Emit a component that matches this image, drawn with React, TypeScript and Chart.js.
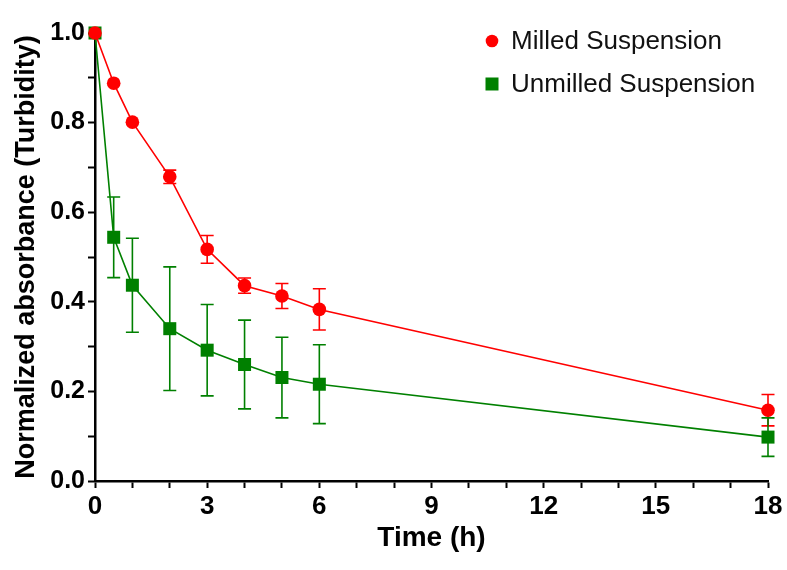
import React, { useEffect, useRef } from "react";
import { Chart, registerables } from "chart.js";

Chart.register(...registerables);

const times = [0, 0.5, 1, 2, 3, 4, 5, 6, 18];
const milledValues = [1.0, 0.888, 0.801, 0.679, 0.517, 0.436, 0.413, 0.383, 0.158];
const milledErrors = [0, 0, 0, 0.015, 0.031, 0.017, 0.028, 0.046, 0.035];
const unmilledValues = [1.0, 0.544, 0.437, 0.34, 0.292, 0.26, 0.231, 0.216, 0.098];
const unmilledErrors = [0, 0.09, 0.105, 0.138, 0.102, 0.099, 0.09, 0.088, 0.043];
const seriesLabels = ["Milled Suspension", "Unmilled Suspension"];
const xAxisTitle = "Time (h)";
const yAxisTitle = "Normalized absorbance (Turbidity)";

const FONT = "'Liberation Sans', Arial, Helvetica, sans-serif";
const RED = "#ff0000";
const GREEN = "#008000";

const errorBarPlugin = {
  id: "errorBars",
  beforeDatasetsDraw(chart: any) {
    const { ctx } = chart;
    const x = chart.scales.x;
    const y = chart.scales.y;
    chart.data.datasets.forEach((ds: any) => {
      const errs: number[] = ds.errors;
      if (!errs) return;
      ctx.save();
      ctx.strokeStyle = ds.borderColor;
      ctx.lineWidth = 1.6;
      ds.data.forEach((p: any, j: number) => {
        const e = errs[j];
        if (!e) return;
        const px = x.getPixelForValue(p.x);
        const top = y.getPixelForValue(p.y + e);
        const bot = y.getPixelForValue(p.y - e);
        ctx.beginPath();
        ctx.moveTo(px, top);
        ctx.lineTo(px, bot);
        ctx.moveTo(px - 6.5, top);
        ctx.lineTo(px + 6.5, top);
        ctx.moveTo(px - 6.5, bot);
        ctx.lineTo(px + 6.5, bot);
        ctx.stroke();
      });
      ctx.restore();
    });
  },
};

const legendPlugin = {
  id: "customLegend",
  afterDraw(chart: any) {
    const { ctx, chartArea } = chart;
    const mx = chartArea.left + 397;
    const tx = chartArea.left + 416;
    const rows = [chartArea.top + 8, chartArea.top + 51];
    ctx.save();
    chart.data.datasets.forEach((ds: any, i: number) => {
      const cy = rows[i];
      ctx.fillStyle = ds.backgroundColor;
      if (ds.pointStyle === "rect") {
        ctx.fillRect(mx - 6.5, cy - 6.5, 13, 13);
      } else {
        ctx.beginPath();
        ctx.arc(mx, cy, 6.3, 0, Math.PI * 2);
        ctx.fill();
      }
      ctx.fillStyle = "#111";
      ctx.font = `26px ${FONT}`;
      ctx.textBaseline = "middle";
      ctx.textAlign = "left";
      ctx.fillText(ds.label, tx, cy + 1);
    });
    ctx.restore();
  },
};

export default function App() {
  const canvasRef = useRef<HTMLCanvasElement | null>(null);

  useEffect(() => {
    if (!canvasRef.current) return;
    const chart = new Chart(canvasRef.current, {
      type: "line",
      data: {
        datasets: [
          {
            label: seriesLabels[0],
            data: times.map((t, i) => ({ x: t, y: milledValues[i] })),
            errors: milledErrors,
            borderColor: RED,
            backgroundColor: RED,
            pointBackgroundColor: RED,
            pointBorderColor: RED,
            borderWidth: 1.6,
            pointStyle: "circle",
            pointRadius: 6.8,
            pointBorderWidth: 0,
            clip: false,
          } as any,
          {
            label: seriesLabels[1],
            data: times.map((t, i) => ({ x: t, y: unmilledValues[i] })),
            errors: unmilledErrors,
            borderColor: GREEN,
            backgroundColor: GREEN,
            pointBackgroundColor: GREEN,
            pointBorderColor: GREEN,
            borderWidth: 1.6,
            pointStyle: "rect",
            pointRadius: 9.2,
            pointBorderWidth: 0,
            clip: false,
          } as any,
        ],
      },
      options: {
        animation: false,
        responsive: false,
        maintainAspectRatio: false,
        layout: { padding: { top: 33, right: 19, left: 0, bottom: 0 } },
        plugins: {
          legend: { display: false },
          tooltip: { enabled: false },
        },
        scales: {
          x: {
            type: "linear",
            min: 0,
            max: 18,
            afterFit: (s: any) => {
              s.height = 89;
            },
            ticks: {
              stepSize: 1,
              autoSkip: false,
              maxRotation: 0,
              padding: 3,
              color: "#000",
              font: { family: FONT, size: 26, weight: "bold" },
              callback: (v: any) => (Number(v) % 3 === 0 ? String(v) : ""),
            },
            grid: {
              display: true,
              drawOnChartArea: false,
              drawTicks: true,
              tickLength: 7,
              tickColor: "#000",
              tickWidth: 2,
            },
            border: { display: true, color: "#000", width: 2.5 },
            title: {
              display: true,
              text: xAxisTitle,
              color: "#000",
              font: { family: FONT, size: 28, weight: "bold" },
              padding: { top: 0, bottom: 15 },
            },
          },
          y: {
            type: "linear",
            min: 0,
            max: 1,
            afterFit: (s: any) => {
              s.width = 95;
            },
            ticks: {
              stepSize: 0.1,
              autoSkip: false,
              padding: 3,
              color: "#000",
              font: { family: FONT, size: 25, weight: "bold" },
              callback: (v: any) =>
                Math.round(Number(v) * 10) % 2 === 0 ? Number(v).toFixed(1) : "",
            },
            grid: {
              display: true,
              drawOnChartArea: false,
              drawTicks: true,
              tickLength: 7,
              tickColor: "#000",
              tickWidth: 2,
            },
            border: { display: true, color: "#000", width: 2.5 },
            title: {
              display: true,
              text: yAxisTitle,
              color: "#000",
              font: { family: FONT, size: 27, weight: "bold" },
              padding: { top: 10, bottom: 0 },
            },
          },
        },
      } as any,
      plugins: [errorBarPlugin, legendPlugin],
    });
    return () => chart.destroy();
  }, []);

  return (
    <div style={{ position: "fixed", left: 0, top: 0, width: 787, height: 570, background: "#fff" }}>
      <canvas ref={canvasRef} width={787} height={570} style={{ width: 787, height: 570 }} />
    </div>
  );
}
